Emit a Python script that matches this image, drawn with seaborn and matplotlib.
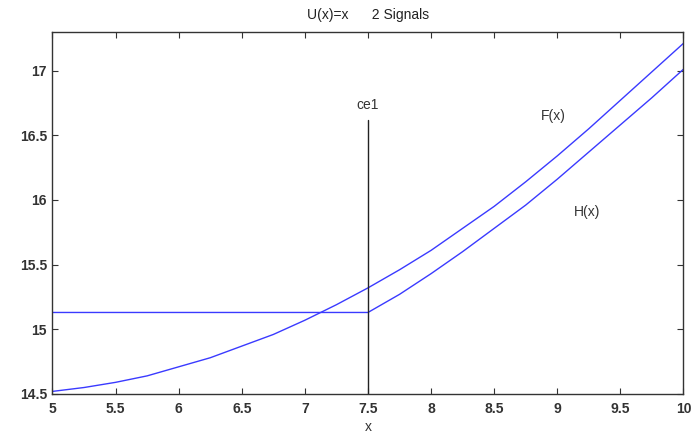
import numpy as np
import pandas as pd
import matplotlib
matplotlib.use("Agg")
import matplotlib.pyplot as plt
import seaborn as sns

# values
f_x = [5.0, 5.25, 5.5, 5.75, 6.0, 6.25, 6.5, 6.75, 7.0, 7.25, 7.5,
       7.75, 8.0, 8.25, 8.5, 8.75, 9.0, 9.25, 9.5, 9.75, 10.0]
f_y = [14.52, 14.55, 14.59, 14.64, 14.71, 14.78, 14.87, 14.96, 15.07, 15.19, 15.32,
       15.46, 15.61, 15.78, 15.95, 16.14, 16.34, 16.55, 16.77, 16.99, 17.21]
h_x = [5.0, 7.5, 7.75, 8.0, 8.25, 8.5, 8.75, 9.0, 9.25, 9.5, 9.75, 10.0]
h_y = [15.13, 15.13, 15.27, 15.43, 15.60, 15.78, 15.96, 16.16, 16.37, 16.58, 16.79, 17.01]
ce1 = 7.5
ce1_top = 16.62

sns.set_style("ticks")
plt.rcParams['font.family'] = ['Liberation Sans', 'DejaVu Sans']

df = pd.concat([
    pd.DataFrame({"x": f_x, "y": f_y, "curve": "F(x)"}),
    pd.DataFrame({"x": h_x, "y": h_y, "curve": "H(x)"}),
])

fig = plt.figure(figsize=(6.96, 4.34), dpi=100)
ax = fig.add_axes([0.0754, 0.0922, 0.9066, 0.8348])

sns.lineplot(data=df, x="x", y="y", units="curve", estimator=None, sort=False,
             color="#3a3aff", linewidth=1.0, ax=ax)
ax.plot([ce1, ce1], [14.5, ce1_top], color="#222222", linewidth=1.0)

ax.text(ce1, 16.68, "ce1", ha="center", va="bottom", fontsize=10, color="#333333")
ax.text(8.97, 16.65, "F(x)", ha="center", va="center", fontsize=10, color="#333333")
ax.text(9.24, 15.91, "H(x)", ha="center", va="center", fontsize=10, color="#333333")

ax.set_xlim(5, 10)
ax.set_ylim(14.5, 17.3)
ax.set_xticks(np.arange(5, 10.01, 0.5))
ax.set_yticks(np.arange(14.5, 17.01, 0.5))
ax.set_xticklabels(["5", "5.5", "6", "6.5", "7", "7.5", "8", "8.5", "9", "9.5", "10"])
ax.set_yticklabels(["14.5", "15", "15.5", "16", "16.5", "17"])
ax.tick_params(direction="in", top=True, right=True, length=4, width=0.8,
               labelsize=10, colors="#333333")
ax.tick_params(axis="x", pad=6)
ax.tick_params(axis="y", pad=4)
for lab in ax.get_xticklabels() + ax.get_yticklabels():
    lab.set_fontweight("bold")
for sp in ax.spines.values():
    sp.set_visible(True)
    sp.set_color("#333333")
    sp.set_linewidth(1.0)

ax.set_xlabel("x", fontsize=10, color="#333333", labelpad=3)
ax.set_ylabel("")
ax.set_title("U(x)=x      2 Signals", fontsize=10, color="#222222", pad=9)

fig.savefig("out.png", dpi=100)
